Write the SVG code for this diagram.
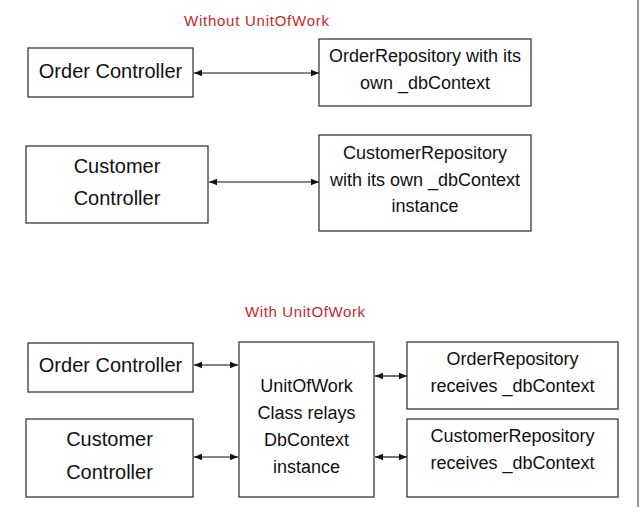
<svg xmlns="http://www.w3.org/2000/svg" width="640" height="526" viewBox="0 0 640 526">
<style>
.box{fill:#fff;stroke:#3a3a3a;stroke-width:1.3}
.t{font-family:"Liberation Sans",Arial,sans-serif;fill:#111;text-anchor:middle}
.big{font-size:20px}
.med{font-size:18px}
.title{font-family:"Liberation Sans",Arial,sans-serif;font-size:15px;fill:#c8282c}
.con{stroke:#111;stroke-width:1.2;fill:none;marker-start:url(#ah);marker-end:url(#ah)}
</style>
<defs>
<marker id="ah" viewBox="0 0 8 8" refX="8" refY="4" markerWidth="8" markerHeight="8" markerUnits="userSpaceOnUse" orient="auto-start-reverse">
<path d="M0,0.8 L8,4 L0,7.2 Z" fill="#111"/>
</marker>
</defs>
<rect width="640" height="526" fill="#fff"/>
<line x1="638" y1="0" x2="638" y2="507" stroke="#777" stroke-width="1.5"/>
<text class="title" x="184" y="26" textLength="145">Without UnitOfWork</text>
<text class="title" x="245" y="317" textLength="120">With UnitOfWork</text>
<g id="connectors">
<line class="con" x1="194" y1="73" x2="319" y2="73"/>
<line class="con" x1="209" y1="182" x2="319" y2="182"/>
<line class="con" x1="194" y1="365" x2="238" y2="365"/>
<line class="con" x1="194" y1="457" x2="238" y2="457"/>
<line class="con" x1="375" y1="376" x2="407" y2="376"/>
<line class="con" x1="375" y1="457" x2="407" y2="457"/>
</g>
<g id="order-controller-1">
<rect class="box" x="28" y="48" width="165" height="49"/>
<text class="t big" x="110.5" y="78">Order Controller</text>
</g>
<g id="customer-controller-1">
<rect class="box" x="26" y="146" width="182" height="77"/>
<text class="t big" x="117" y="173">Customer</text>
<text class="t big" x="117" y="205">Controller</text>
</g>
<g id="order-repository-1">
<rect class="box" x="319" y="39" width="212" height="67"/>
<text class="t med" x="425" y="62">OrderRepository with its</text>
<text class="t med" x="425" y="89">own _dbContext</text>
</g>
<g id="customer-repository-1">
<rect class="box" x="319" y="135" width="212" height="96"/>
<text class="t med" x="425" y="159">CustomerRepository</text>
<text class="t med" x="425" y="186">with its own _dbContext</text>
<text class="t med" x="425" y="212">instance</text>
</g>
<g id="order-controller-2">
<rect class="box" x="28" y="343" width="165" height="49"/>
<text class="t big" x="110.5" y="372">Order Controller</text>
</g>
<g id="customer-controller-2">
<rect class="box" x="26" y="419" width="167" height="78"/>
<text class="t big" x="109.5" y="446">Customer</text>
<text class="t big" x="109.5" y="479">Controller</text>
</g>
<g id="unitofwork">
<rect class="box" x="239" y="342" width="135" height="155"/>
<text class="t med" x="306.5" y="392">UnitOfWork</text>
<text class="t med" x="306.5" y="419">Class relays</text>
<text class="t med" x="306.5" y="446">DbContext</text>
<text class="t med" x="306.5" y="473">instance</text>
</g>
<g id="order-repository-2">
<rect class="box" x="407" y="342" width="211" height="67"/>
<text class="t med" x="512.5" y="365">OrderRepository</text>
<text class="t med" x="512.5" y="392">receives _dbContext</text>
</g>
<g id="customer-repository-2">
<rect class="box" x="407" y="419" width="211" height="78"/>
<text class="t med" x="512.5" y="442">CustomerRepository</text>
<text class="t med" x="512.5" y="469">receives _dbContext</text>
</g>
</svg>
